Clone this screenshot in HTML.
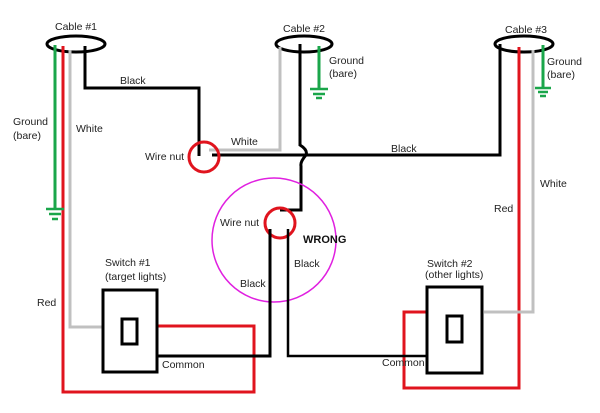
<!DOCTYPE html>
<html><head><meta charset="utf-8"><style>
html,body{margin:0;padding:0;background:#fff;}
svg{display:block;}
text{font-family:"Liberation Sans",sans-serif;font-size:10.5px;fill:#222;}
</style></head><body>
<svg width="600" height="413" viewBox="0 0 600 413" xmlns="http://www.w3.org/2000/svg">
<g fill="none" stroke-width="3">
<!-- cable ellipses -->
<ellipse cx="76" cy="44" rx="29" ry="8" stroke="#000"/>
<ellipse cx="304" cy="44" rx="28" ry="8" stroke="#000"/>
<ellipse cx="524" cy="44" rx="29" ry="8" stroke="#000"/>
<!-- cable 1 wires -->
<line x1="55" y1="45" x2="55" y2="209" stroke="#1aa64a"/>
<polyline points="63,46 63,392 254,392 254,326 157,326" stroke="#e0141e"/>
<polyline points="70,50 70,327 103,327" stroke="#c0c0c0"/>
<polyline points="85,46 85,88 199,88 199,156" stroke="#000"/>
<!-- ground symbols -->
<g stroke="#1aa64a" stroke-width="2.5">
<line x1="46" y1="209" x2="64" y2="209"/><line x1="49" y1="214" x2="61" y2="214"/><line x1="52" y1="219" x2="58" y2="219"/>
<line x1="310" y1="89" x2="328" y2="89"/><line x1="313" y1="94" x2="325" y2="94"/><line x1="316" y1="98" x2="322" y2="98"/>
<line x1="535" y1="88" x2="551" y2="88"/><line x1="538" y1="92" x2="548" y2="92"/><line x1="540" y1="96" x2="546" y2="96"/>
</g>
<line x1="319" y1="46" x2="319" y2="89" stroke="#1aa64a"/>
<line x1="543" y1="45" x2="543" y2="88" stroke="#1aa64a"/>
<!-- cable 2 -->
<polyline points="280,47 280,150 209,150" stroke="#c0c0c0"/>
<path d="M300,44 V145 Q308,150 306,155 Q300,162 301,166 V210 H280" stroke="#000"/>
<!-- black across -->
<polyline points="212,155 500,155 500,44" stroke="#000"/>
<!-- cable 3 -->
<polyline points="519,47 519,388 404,388 404,312 427,312" stroke="#e0141e"/>
<polyline points="533,50 533,312 484,312" stroke="#c0c0c0"/>
<!-- wire nuts -->
<circle cx="204" cy="157" r="15" stroke="#e0141e"/>
<circle cx="274" cy="240" r="62" stroke="#e020e0" stroke-width="1.5"/>
<circle cx="280" cy="223" r="15" stroke="#e0141e"/>
<polyline points="270,229 270,356 157,356" stroke="#000"/>
<polyline points="288,229 288,356 427,356" stroke="#000" stroke-width="2.5"/>
<!-- switches -->
<rect x="103" y="290" width="54" height="82" stroke="#000"/>
<rect x="122" y="319" width="15" height="25" stroke="#000"/>
<rect x="427" y="287" width="55" height="86" stroke="#000"/>
<rect x="447" y="316" width="15" height="26" stroke="#000"/>
</g>
<text x="76" y="30" text-anchor="middle">Cable #1</text>
<text x="304" y="32" text-anchor="middle">Cable #2</text>
<text x="526" y="33" text-anchor="middle">Cable #3</text>
<text x="120" y="84">Black</text>
<text x="76" y="132">White</text>
<text x="13" y="125">Ground</text><text x="13" y="139">(bare)</text>
<text x="145" y="160">Wire nut</text>
<text x="231" y="145">White</text>
<text x="391" y="152">Black</text>
<text x="329" y="64">Ground</text><text x="329" y="77">(bare)</text>
<text x="547" y="65">Ground</text><text x="547" y="78">(bare)</text>
<text x="540" y="187">White</text>
<text x="494" y="212">Red</text>
<text x="220" y="226">Wire nut</text>
<text x="303" y="243" style="font-weight:bold;font-size:11px;fill:#111">WRONG</text>
<text x="294" y="267">Black</text>
<text x="240" y="287">Black</text>
<text x="37" y="306">Red</text>
<text x="105" y="266">Switch #1</text><text x="105" y="280">(target lights)</text>
<text x="162" y="368">Common</text>
<text x="427" y="267">Switch #2</text><text x="425" y="278">(other lights)</text>
<text x="382" y="366">Common</text>
</svg>
</body></html>
